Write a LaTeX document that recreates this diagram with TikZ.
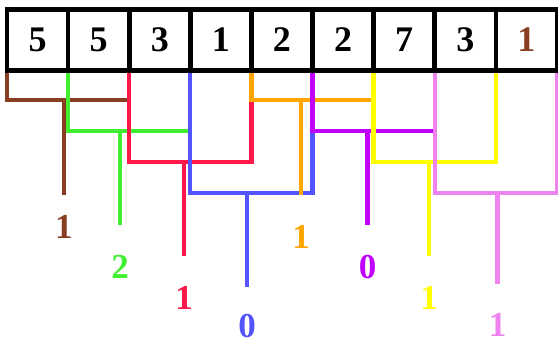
\documentclass[tikz,border=0pt]{standalone}
\usepackage{fontspec}
\setmainfont{Liberation Serif}
\definecolor{cBrown}{RGB}{136,62,34}
\definecolor{cGreen}{RGB}{64,240,48}
\definecolor{cRed}{RGB}{255,24,72}
\definecolor{cBlue}{RGB}{84,84,255}
\definecolor{cOrange}{RGB}{255,166,0}
\definecolor{cPurple}{RGB}{192,0,255}
\definecolor{cYellow}{RGB}{255,255,0}
\definecolor{cViolet}{RGB}{238,130,238}
\begin{document}
\begin{tikzpicture}[x=1pt,y=-1pt]
\tikzset{
  cell/.style={draw=black, line width=4.6pt, minimum width=61.1pt, minimum height=61pt,
    inner sep=0pt, outer sep=0pt, font=\fontsize{36}{36}\selectfont\bfseries},
  brk/.style={line width=4.3pt, line cap=butt, line join=miter},
  lab/.style={inner sep=0pt, font=\fontsize{35}{35}\selectfont\bfseries}
}
\useasboundingbox (0,0) rectangle (558,343);
% cells
\node[cell] (c0) at (37.55,40) {5};
\node[cell] (c1) at (98.65,40) {5};
\node[cell] (c2) at (159.75,40) {3};
\node[cell] (c3) at (220.85,40) {1};
\node[cell] (c4) at (281.95,40) {2};
\node[cell] (c5) at (343.05,40) {2};
\node[cell] (c6) at (404.15,40) {7};
\node[cell] (c7) at (465.25,40) {3};
\node[cell,text=cBrown] (c8) at (526.35,40) {1};
% divider coordinates just below the row
\foreach \i in {0,...,8} {\coordinate (d\i) at ([yshift=-2.3pt]c\i.south west);}
\coordinate (d9) at ([yshift=-2.3pt]c8.south east);
% brackets: colour / left / right / level / stem x / stem end / label y / label
\foreach \col/\a/\b/\lev/\sx/\ey/\ly/\t in {
  cBrown/0/2/100/64/195/227/1,
  cGreen/1/3/131/120/225/267/2,
  cRed/2/4/162/184/256/297.5/1,
  cBlue/3/5/193/247/287/326.5/0,
  cOrange/4/6/100/301/195/237/1,
  cPurple/5/7/131/367.5/225/267/0,
  cYellow/6/8/162/429/256/297.5/1,
  cViolet/7/9/193/497.5/284/325/1}
{
  \draw[brk,\col] (d\a) -- (d\a |- 0,\lev) -- (d\b |- 0,\lev) -- (d\b);
  \coordinate (s\a) at (\sx,\lev);
  \coordinate (e\a) at (\sx,\ey);
  \draw[brk,\col] (s\a) -- (e\a);
  \node[lab,text=\col] (l\a) at (\sx,\ly) {\t};
}
\end{tikzpicture}
\end{document}
